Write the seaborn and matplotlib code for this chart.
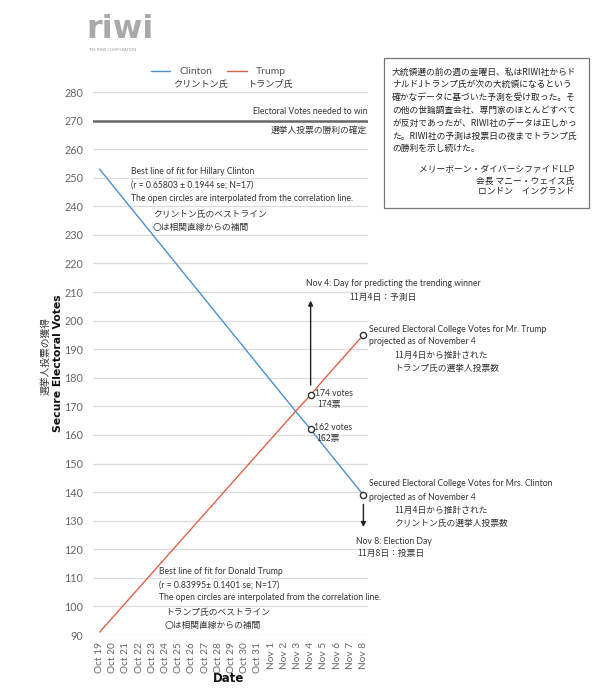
import matplotlib
matplotlib.use("Agg")
import matplotlib.pyplot as plt
from matplotlib.lines import Line2D
from matplotlib.patches import Rectangle
import seaborn as sns
import pandas as pd

# ---------------- data ----------------
dates = ["Oct 19", "Oct 20", "Oct 21", "Oct 22", "Oct 23", "Oct 24", "Oct 25",
         "Oct 26", "Oct 27", "Oct 28", "Oct 29", "Oct 30", "Oct 31", "Nov 1",
         "Nov 2", "Nov 3", "Nov 4", "Nov 5", "Nov 6", "Nov 7", "Nov 8"]
clinton = [253.0, 247.3, 241.6, 235.9, 230.2, 224.5, 218.8, 213.1, 207.4, 201.7,
           196.0, 190.3, 184.6, 178.9, 173.2, 167.5, 162.0, 156.1, 150.4, 144.7, 139.0]
trump = [91.0, 96.2, 101.4, 106.6, 111.8, 117.0, 122.2, 127.4, 132.6, 137.8,
         143.0, 148.2, 153.4, 158.6, 163.8, 169.0, 174.0, 179.4, 184.6, 189.8, 195.0]
circle_dates = ["Nov 4", "Nov 8"]
clinton_circles = [162, 139]
trump_circles = [174, 195]
needed_to_win = 270
yticks = list(range(90, 290, 10))

# ---------------- style ----------------
sns.set_theme(style="white")
JP = ["Noto Sans CJK JP", "DejaVu Sans"]
EN = ["Lato", "DejaVu Sans"]
TICKF = ["Lato", "DejaVu Sans"]
plt.rcParams["font.family"] = ["Lato", "Noto Sans CJK JP", "DejaVu Sans"]

BLUE = "#4a8fd0"
RED = "#e2604a"
GRID = "#dcdcdc"
TXT = "#333333"

fig = plt.figure(figsize=(6, 7), dpi=100)
W, H = 600, 700
ax = fig.add_axes([93 / W, 1 - 635 / H, (368 - 93) / W, (635 - 92) / H])

df = pd.DataFrame({"x": list(range(len(dates))) * 2,
                   "votes": clinton + trump,
                   "cand": ["Clinton"] * len(dates) + ["Trump"] * len(dates)})
sns.lineplot(data=df, x="x", y="votes", hue="cand", palette={"Clinton": BLUE, "Trump": RED},
             linewidth=1.0, legend=False, ax=ax, zorder=3)

cx = [dates.index(d) for d in circle_dates]
circ = pd.DataFrame({"x": cx * 2, "votes": clinton_circles + trump_circles})
sns.scatterplot(data=circ, x="x", y="votes", s=20, facecolor="white", edgecolor="#333333",
                linewidth=1.0, ax=ax, zorder=5)

ax.axhline(needed_to_win, color="#666666", lw=1.8, zorder=2)
for yv in yticks:
    if yv != needed_to_win:
        ax.axhline(yv, color=GRID, lw=0.9, zorder=1)

ax.set_xlim(-0.5, 20.35)
ax.set_ylim(90, 280)
ax.set_yticks(yticks)
ax.set_xticks(range(len(dates)))
ax.set_xticklabels(dates, rotation=90, color="#666666", fontsize=7.3, family=TICKF)
ax.set_yticklabels([str(v) for v in yticks], color="#666666", fontsize=7.8, family=TICKF)
ax.tick_params(axis="x", length=0, pad=5)
ax.tick_params(axis="y", length=0, pad=7)
for s in ax.spines.values():
    s.set_visible(False)
ax.set_xlabel("")
ax.set_ylabel("")
ax.grid(False)

# arrows
ax.annotate("", xy=(16, 208), xytext=(16, 176.5),
            arrowprops=dict(arrowstyle="-|>", color="#222222", lw=1.0, mutation_scale=7))
ax.annotate("", xy=(20, 126.8), xytext=(20, 136.7),
            arrowprops=dict(arrowstyle="-|>", color="#222222", lw=1.0, mutation_scale=7))


def ft(x, y, s, size=6.2, family=EN, ha="left", **kw):
    fig.text(x / W, 1 - y / H, s, fontsize=size, family=family, ha=ha, va="center",
             color=kw.pop("color", TXT), **kw)


JS = 6.3  # japanese annotation size

# axis labels
ft(229, 678, "Date", size=8.5, family=["DejaVu Sans"], ha="center", weight="bold", color="#111111")
ft(58, 363, "Secure Electoral Votes", size=7.8, family=["DejaVu Sans"], ha="center",
   weight="bold", rotation=90, color="#111111")
ft(46, 356, "選挙人投票の獲得", size=7, family=JP, ha="center", rotation=90)

# logo
ft(86, 30, "riwi", size=23, family=["DejaVu Sans"], weight="bold", color="#a9a9a9")
ft(88, 50, "THE RIWI CORPORATION", size=2.9, family=["DejaVu Sans"], color="#999999")

# legend
fig.add_artist(Line2D([151 / W, 170 / W], [1 - 71 / H] * 2, color=BLUE, lw=1.0))
ft(179, 72, "Clinton", size=7.5, family=TICKF, color="#555555")
ft(173, 85, "クリントン氏", size=6.6, family=JP)
fig.add_artist(Line2D([227 / W, 247 / W], [1 - 71 / H] * 2, color=RED, lw=1.0))
ft(256, 72, "Trump", size=7.5, family=TICKF, color="#555555")
ft(248, 85, "トランプ氏", size=6.6, family=JP)

# 270 line labels
ft(368, 112, "Electoral Votes needed to win", ha="right")
ft(367, 130, "選挙人投票の勝利の確定", ha="right", size=JS, family=JP)

# clinton fit
ft(131, 171, "Best line of fit for Hillary Clinton")
ft(131, 185, "(r = 0.65803 ± 0.1944 se; N=17)")
ft(131, 198, "The open circles are interpolated from the correlation line.")
ft(153, 214, "クリントン氏のベストライン", size=JS, family=JP)
ft(153, 227, "〇は相関直線からの補間", size=JS, family=JP)

# nov 4
ft(306, 283, "Nov 4: Day for predicting the trending winner")
ft(349, 297, "11月4日：予測日", size=JS, family=JP)

# trump projection
ft(369, 329, "Secured Electoral College Votes for Mr. Trump")
ft(369, 342, "projected as of November 4")
ft(394, 355, "11月4日から推計された", size=JS, family=JP)
ft(394, 368, "トランプ氏の選挙人投票数", size=JS, family=JP)

# vote labels
ft(315, 394, "174 votes")
ft(317, 404, "174票", size=JS, family=JP)
ft(314, 428, "162 votes")
ft(316, 439, "162票", size=JS, family=JP)

# clinton projection
ft(369, 484, "Secured Electoral College Votes for Mrs. Clinton")
ft(369, 498, "projected as of November 4")
ft(394, 510, "11月4日から推計された", size=JS, family=JP)
ft(394, 523, "クリントン氏の選挙人投票数", size=JS, family=JP)

# nov 8
ft(356, 541, "Nov 8: Election Day")
ft(357, 553, "11月8日：投票日", size=JS, family=JP)

# trump fit
ft(159, 572, "Best line of fit for Donald Trump")
ft(159, 585, "(r = 0.83995± 0.1401 se; N=17)")
ft(159, 598, "The open circles are interpolated from the correlation line.")
ft(165, 613, "トランプ氏のベストライン", size=JS, family=JP)
ft(165, 625, "〇は相関直線からの補間", size=JS, family=JP)

# text box
fig.add_artist(Rectangle((384 / W, 1 - 208 / H), (589 - 384) / W, (208 - 58) / H,
                         transform=fig.transFigure, facecolor="white", edgecolor="#777777", lw=0.9))
box_lines = ["大統領選の前の週の金曜日、私はRIWI社からド",
             "ナルドJトランプ氏が次の大統領になるという",
             "確かなデータに基づいた予測を受け取った。そ",
             "の他の世論調査会社、専門家のほとんどすべて",
             "が反対であったが、RIWI社のデータは正しかっ",
             "た。RIWI社の予測は投票日の夜までトランプ氏",
             "の勝利を示し続けた。"]
for i, line in enumerate(box_lines):
    ft(392, 72 + i * 12.8, line, size=6.3, family=JP, color="#222222")
sig = ["メリーボーン・ダイバーシファイドLLP", "会長 マニー・ウェイス氏", "ロンドン　イングランド"]
for i, line in enumerate(sig):
    ft(574, 170 + i * 11, line, size=6.3, family=JP, ha="right", color="#222222")

fig.savefig("out.png", dpi=100, facecolor="white")
